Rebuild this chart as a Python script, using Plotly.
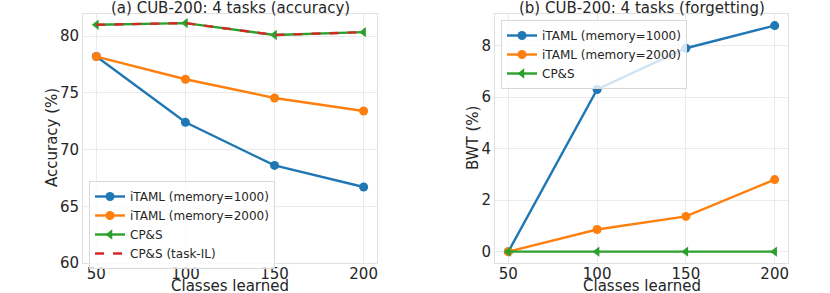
import plotly.graph_objects as go

classes = [50, 100, 150, 200]
acc_itaml_1000 = [78.2, 72.4, 68.6, 66.7]
acc_itaml_2000 = [78.2, 76.2, 74.55, 73.4]
acc_cps = [81.0, 81.15, 80.1, 80.35]
acc_cps_task = [81.0, 81.15, 80.1, 80.35]

bwt_itaml_1000 = [0.0, 6.3, 7.9, 8.78]
bwt_itaml_2000 = [0.0, 0.86, 1.37, 2.8]
bwt_cps = [0.0, 0.0, 0.0, 0.0]

BLUE = "#1f77b4"
ORANGE = "#ff7f0e"
GREEN = "#2ca02c"
RED = "#d62728"
FONT = "DejaVu Sans"
TXT = "#262626"

fig = go.Figure()

def add(x, y, name, color, xa, ya, symbol="circle", dash="solid", mode="lines+markers", legend="legend"):
    fig.add_trace(go.Scatter(
        x=x, y=y, name=name, mode=mode,
        line=dict(color=color, width=2.4, dash=dash),
        marker=dict(symbol=symbol, size=9, color=color),
        xaxis=xa, yaxis=ya, legend=legend,
    ))

add(classes, acc_itaml_1000, "iTAML (memory=1000)", BLUE, "x", "y")
add(classes, acc_itaml_2000, "iTAML (memory=2000)", ORANGE, "x", "y")
add(classes, acc_cps, "CP&S", GREEN, "x", "y", symbol="triangle-left")
add(classes, acc_cps_task, "CP&S (task-IL)", RED, "x", "y", dash="dash", mode="lines")

add(classes, bwt_itaml_1000, "iTAML (memory=1000)", BLUE, "x2", "y2", legend="legend2")
add(classes, bwt_itaml_2000, "iTAML (memory=2000)", ORANGE, "x2", "y2", legend="legend2")
add(classes, bwt_cps, "CP&S", GREEN, "x2", "y2", symbol="triangle-left", legend="legend2")

H = 293.0
W = 830.0
ydom = [1 - 263 / H, 1 - 14 / H]

axis_common = dict(
    showgrid=True, gridcolor="#ebebeb", gridwidth=1,
    showline=True, linecolor="#e0e0e0", linewidth=1, mirror=True,
    zeroline=False, ticks="", automargin=False,
    tickfont=dict(size=15, color=TXT, family=FONT),
)

def ann(text, x, y, size=15, angle=0):
    return dict(text=text, x=x / W, y=1 - y / H, xref="paper", yref="paper",
                xanchor="center", yanchor="middle", showarrow=False, textangle=angle,
                font=dict(size=size, family=FONT, color=TXT))

legend_common = dict(xanchor="left", yanchor="top",
                     bgcolor="rgba(255,255,255,0.8)", bordercolor="#d9d9d9", borderwidth=1,
                     font=dict(size=12, family=FONT, color=TXT), tracegroupgap=0, itemwidth=30)

fig.update_layout(
    width=830, height=293, autosize=False,
    margin=dict(l=0, r=0, t=0, b=0, pad=0, autoexpand=False),
    paper_bgcolor="white", plot_bgcolor="white",
    font=dict(family=FONT, color=TXT),
    xaxis=dict(domain=[83 / W, 377 / W], range=[42.5, 207.5], tickvals=classes, anchor="y", **axis_common),
    yaxis=dict(domain=ydom, range=[60, 81.95], tickvals=[60, 65, 70, 75, 80], anchor="x", **axis_common),
    xaxis2=dict(domain=[495 / W, 788 / W], range=[42.5, 207.5], tickvals=classes, anchor="y2", **axis_common),
    yaxis2=dict(domain=ydom, range=[-0.44, 9.23], tickvals=[0, 2, 4, 6, 8], anchor="x2", **axis_common),
    legend=dict(x=89 / W, y=1 - 181 / H, **legend_common),
    legend2=dict(x=501 / W, y=1 - 20 / H, **legend_common),
    annotations=[
        ann("(a) CUB-200: 4 tasks (accuracy)", 230, 8),
        ann("(b) CUB-200: 4 tasks (forgetting)", 641.5, 8),
        ann("Classes learned", 230, 286),
        ann("Classes learned", 641.5, 286),
        ann("Accuracy (%)", 52, 138, angle=-90),
        ann("BWT (%)", 473, 138, angle=-90),
    ],
)
fig.update_xaxes(ticklabelstandoff=-3)

fig.write_html("out.html", config={"displayModeBar": False, "responsive": False},
               post_script="document.body.style.margin='0px';document.body.style.padding='0px';document.body.style.overflow='hidden';")
